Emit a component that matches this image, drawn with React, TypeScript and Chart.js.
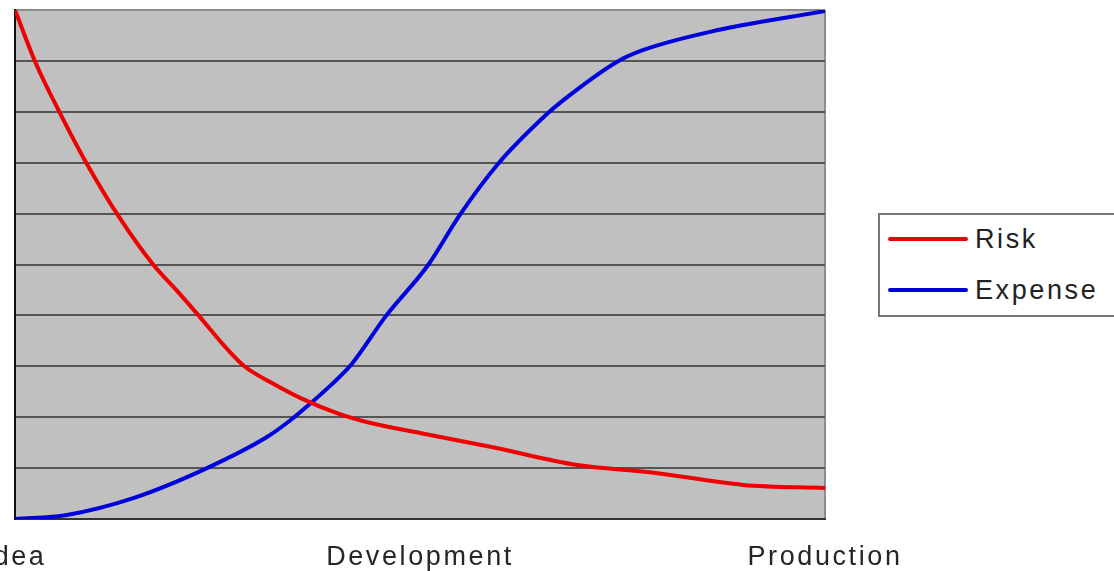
import React, { useEffect, useRef } from 'react';
import { Chart, registerables } from 'chart.js';

Chart.register(...registerables);

const stageLabels = ['Idea', 'Development', 'Production'];
const stagePositions = [0, 50, 100];

const riskX = [0, 2.5, 5.6, 8.9, 12.7, 17.0, 19.9, 22.6, 26.3, 28.4, 31.5, 35.2, 40.1, 43.8, 50.0, 59.0, 69.4, 78.4, 89.9, 100];
const riskY = [100, 89.8, 79.6, 69.7, 59.7, 50.1, 45.0, 40.1, 33.2, 29.9, 26.9, 23.8, 20.6, 18.9, 16.9, 14.1, 10.6, 9.2, 6.7, 6.1];

const expenseX = [0, 6.4, 14.6, 23.7, 31.1, 34.0, 36.4, 39.0, 41.6, 45.8, 51.0, 54.9, 59.6, 65.7, 67.7, 74.3, 77.5, 85.8, 100];
const expenseY = [0, 0.8, 4.1, 10.0, 16.1, 19.4, 22.6, 26.3, 30.5, 39.9, 49.9, 59.7, 69.7, 79.6, 82.3, 89.8, 92.1, 95.7, 99.8];

const seriesNames = ['Risk', 'Expense'];
const seriesColors = ['#ee0000', '#0000dd'];

const FONT = "'Liberation Sans', Arial, sans-serif";
const SPACING = '2.6px';

export default function App() {
  const ref = useRef<HTMLCanvasElement>(null);

  useEffect(() => {
    const canvas = ref.current;
    if (!canvas) return;
    const stylePlugin = {
      id: 'bgAndSpacing',
      beforeLayout(chart: any) {
        chart.ctx.letterSpacing = SPACING;
      },
      beforeDraw(chart: any) {
        const ctx = chart.ctx;
        ctx.letterSpacing = SPACING;
        const a = chart.chartArea;
        ctx.save();
        ctx.fillStyle = '#c0c0c0';
        ctx.fillRect(a.left, a.top, a.right - a.left, a.bottom - a.top);
        ctx.restore();
      },
    };

    const chart = new Chart(canvas, {
      type: 'line',
      data: {
        datasets: [
          {
            label: seriesNames[0],
            data: riskX.map((x, i) => ({ x, y: riskY[i] })),
            borderColor: seriesColors[0],
            backgroundColor: seriesColors[0],
            borderWidth: 4,
            pointRadius: 0,
            cubicInterpolationMode: 'monotone',
            fill: false,
          },
          {
            label: seriesNames[1],
            data: expenseX.map((x, i) => ({ x, y: expenseY[i] })),
            borderColor: seriesColors[1],
            backgroundColor: seriesColors[1],
            borderWidth: 4,
            pointRadius: 0,
            cubicInterpolationMode: 'monotone',
            fill: false,
          },
        ],
      },
      options: {
        animation: false,
        responsive: false,
        layout: { padding: { left: 15, top: 10, right: 289, bottom: 0 } },
        plugins: {
          legend: { display: false },
          tooltip: { enabled: false },
        },
        scales: {
          x: {
            type: 'linear',
            min: 0,
            max: 100,
            afterBuildTicks: (s: any) => {
              s.ticks = stagePositions.map((v) => ({ value: v }));
            },
            afterFit: (s: any) => {
              s.paddingLeft = 0;
              s.paddingRight = 0;
              s.height = 52;
            },
            ticks: {
              autoSkip: false,
              maxRotation: 0,
              minRotation: 0,
              padding: 22,
              color: '#262626',
              font: { family: FONT, size: 27 },
              callback: (v: any) => {
                const i = stagePositions.indexOf(Number(v));
                return i >= 0 ? stageLabels[i] : '';
              },
            },
            grid: {
              drawTicks: false,
              lineWidth: 2,
              color: (c: any) => (c.tick && c.tick.value === 100 ? '#8c8c8c' : 'rgba(0,0,0,0)'),
            },
            border: { display: true, color: '#333333', width: 2 },
          },
          y: {
            type: 'linear',
            min: 0,
            max: 100,
            afterFit: (s: any) => {
              s.width = 0;
              s.paddingTop = 0;
              s.paddingBottom = 0;
            },
            ticks: { stepSize: 10, display: false },
            grid: {
              drawTicks: false,
              lineWidth: 2,
              color: (c: any) => (c.tick && c.tick.value === 100 ? '#8c8c8c' : '#555555'),
            },
            border: { display: true, color: '#111111', width: 2 },
          },
        },
      },
      plugins: [stylePlugin],
    } as any);

    return () => chart.destroy();
  }, []);

  const textStyle: React.CSSProperties = {
    position: 'absolute',
    left: 95,
    fontFamily: FONT,
    fontSize: 27,
    lineHeight: '32px',
    letterSpacing: SPACING,
    color: '#222',
    whiteSpace: 'nowrap',
  };
  const lineStyle: React.CSSProperties = {
    position: 'absolute',
    left: 8,
    width: 80,
    height: 4,
    borderRadius: 2,
  };

  return (
    <div style={{ position: 'absolute', left: 0, top: 0, width: 1114, height: 571, overflow: 'hidden', background: '#fff' }}>
      <canvas ref={ref} width={1114} height={571} style={{ display: 'block', width: 1114, height: 571 }} />
      <div
        style={{
          position: 'absolute',
          left: 878,
          top: 213,
          width: 260,
          height: 104,
          boxSizing: 'border-box',
          border: '2px solid #777',
          background: '#fff',
        }}
      >
        <div style={{ ...lineStyle, top: 22, background: seriesColors[0] }} />
        <div style={{ ...textStyle, top: 8 }}>{seriesNames[0]}</div>
        <div style={{ ...lineStyle, top: 73, background: seriesColors[1] }} />
        <div style={{ ...textStyle, top: 59 }}>{seriesNames[1]}</div>
      </div>
    </div>
  );
}
